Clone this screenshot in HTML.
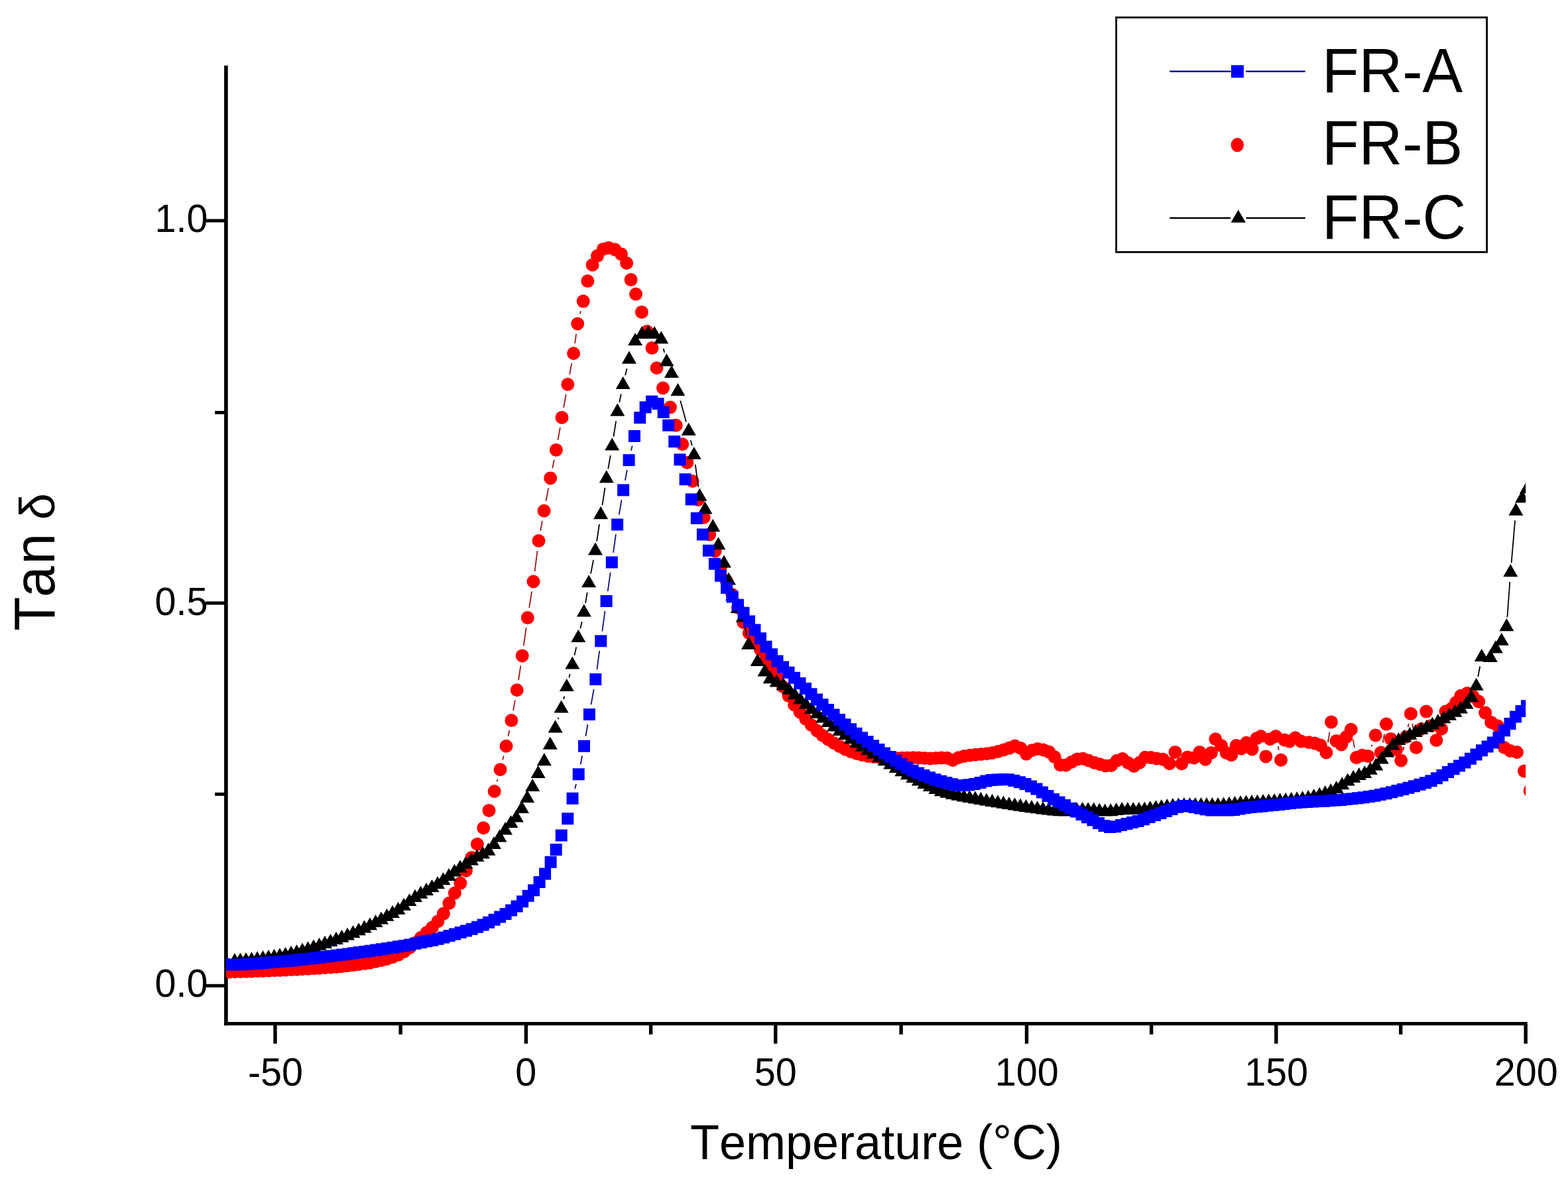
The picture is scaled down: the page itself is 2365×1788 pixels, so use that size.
<!DOCTYPE html>
<html lang="en"><head><meta charset="utf-8"><title>Tan delta vs Temperature</title>
<style>html,body{margin:0;padding:0;background:#fff}body{width:2365px;height:1788px;overflow:hidden}svg{display:block}text{font-family:"Liberation Sans",Arial,Helvetica,sans-serif;fill:#000;font-kerning:none;font-variant-ligatures:none}</style></head><body>
<svg width="2365" height="1788" viewBox="0 0 2365 1788">
<rect width="2365" height="1788" fill="#fff"/>
<defs><clipPath id="plot"><rect x="340.9" y="98.9" width="1960.2999999999997" height="1445.6999999999998"/></clipPath></defs>
<g fill="#000"><rect x="338.1" y="98.9" width="5.6" height="1448.3"/><rect x="338.1" y="1542" width="1965.6" height="5.2"/><rect x="412.3" y="1545" width="5.4" height="29.7"/><rect x="790.7" y="1545" width="5.4" height="29.7"/><rect x="1167.0" y="1545" width="5.4" height="29.7"/><rect x="1545.8" y="1545" width="5.4" height="29.7"/><rect x="1922.1" y="1545" width="5.4" height="29.7"/><rect x="2298.5" y="1545" width="5.4" height="29.7"/><rect x="601.5" y="1545" width="5.4" height="15.8"/><rect x="978.9" y="1545" width="5.4" height="15.8"/><rect x="1356.4" y="1545" width="5.4" height="15.8"/><rect x="1733.9" y="1545" width="5.4" height="15.8"/><rect x="2110.0" y="1545" width="5.4" height="15.8"/><rect x="310.2" y="330.5" width="29" height="5"/><rect x="310.2" y="907.5" width="29" height="5"/><rect x="310.2" y="1484.8" width="29" height="5"/><rect x="324.1" y="620.0" width="15" height="5"/><rect x="324.1" y="1195.8" width="15" height="5"/></g>
<text transform="translate(415.5 1637.6) scale(1 1.03)" font-size="57.5px" text-anchor="middle">-50</text>
<text transform="translate(793.3 1637.6) scale(1 1.03)" font-size="57.5px" text-anchor="middle">0</text>
<text transform="translate(1169.8 1637.6) scale(1 1.03)" font-size="57.5px" text-anchor="middle">50</text>
<text transform="translate(1548.7 1637.6) scale(1 1.03)" font-size="57.5px" text-anchor="middle">100</text>
<text transform="translate(1925.1 1637.6) scale(1 1.03)" font-size="57.5px" text-anchor="middle">150</text>
<text transform="translate(2301.7 1637.6) scale(1 1.03)" font-size="57.5px" text-anchor="middle">200</text>
<text transform="translate(313.5 349.6) scale(1 1.03)" font-size="57.5px" text-anchor="end">1.0</text>
<text transform="translate(313.5 927.6) scale(1 1.03)" font-size="57.5px" text-anchor="end">0.5</text>
<text transform="translate(313.5 1503.9) scale(1 1.03)" font-size="57.5px" text-anchor="end">0.0</text>
<text transform="translate(1321.5 1749.2) scale(1 1.02)" font-size="72px" text-anchor="middle">Temperature (°C)</text>
<text transform="translate(81.8 952) rotate(-90) scale(1 1.03)" font-size="84px" text-anchor="start"><tspan dx="0 -0.4 2.8 -1.4 -1.4">Tan <tspan font-size="72px">δ</tspan></tspan></text>
<g clip-path="url(#plot)">
<path d="M749.6 1179.3L750.6 1175.9M758.2 1146.5L759.8 1140.5M766.5 1110.9L768.4 1102.0M774.1 1072.1L777.0 1056.3M782.0 1026.3L785.4 1004.4M789.8 974.3L793.7 947.2M798.2 917.1L802.1 892.5M806.5 862.4L810.5 831.1M815.2 801.0L817.9 785.8M823.5 755.9L827.3 736.3M833.2 706.5L835.9 693.8M841.5 663.9L844.9 645.0M850.1 615.0L853.7 595.0M859.1 565.1L862.3 548.2M867.2 518.2L869.1 503.6M874.9 473.8L876.0 469.3M1927.6 1125.9L1928.8 1131.9M2002.9 1120.5L2005.5 1104.4M2040.7 1115.7L2043.0 1128.2M2068.5 1126.6L2069.5 1123.7M2085.7 1120.6L2088.1 1107.5M2116.3 1132.5L2117.4 1126.9M2123.6 1097.1L2124.8 1091.8M2130.3 1091.9L2133.6 1112.9M2263.4 1109.8L2264.6 1113.5" stroke="#a01818" stroke-width="1.8" fill="none"/>
<path d="M335.9 1466.5a10.0 10.0 0 1 0 20.0 0a10.0 10.0 0 1 0 -20.0 0zM344.4 1466.3a10.0 10.0 0 1 0 20.0 0a10.0 10.0 0 1 0 -20.0 0zM352.9 1466.1a10.0 10.0 0 1 0 20.0 0a10.0 10.0 0 1 0 -20.0 0zM361.4 1465.8a10.0 10.0 0 1 0 20.0 0a10.0 10.0 0 1 0 -20.0 0zM369.9 1465.5a10.0 10.0 0 1 0 20.0 0a10.0 10.0 0 1 0 -20.0 0zM378.4 1465.3a10.0 10.0 0 1 0 20.0 0a10.0 10.0 0 1 0 -20.0 0zM386.9 1464.9a10.0 10.0 0 1 0 20.0 0a10.0 10.0 0 1 0 -20.0 0zM395.4 1464.6a10.0 10.0 0 1 0 20.0 0a10.0 10.0 0 1 0 -20.0 0zM403.9 1464.3a10.0 10.0 0 1 0 20.0 0a10.0 10.0 0 1 0 -20.0 0zM412.4 1463.9a10.0 10.0 0 1 0 20.0 0a10.0 10.0 0 1 0 -20.0 0zM420.9 1463.5a10.0 10.0 0 1 0 20.0 0a10.0 10.0 0 1 0 -20.0 0zM429.4 1463.1a10.0 10.0 0 1 0 20.0 0a10.0 10.0 0 1 0 -20.0 0zM437.9 1462.7a10.0 10.0 0 1 0 20.0 0a10.0 10.0 0 1 0 -20.0 0zM446.4 1462.2a10.0 10.0 0 1 0 20.0 0a10.0 10.0 0 1 0 -20.0 0zM454.9 1461.7a10.0 10.0 0 1 0 20.0 0a10.0 10.0 0 1 0 -20.0 0zM463.4 1461.2a10.0 10.0 0 1 0 20.0 0a10.0 10.0 0 1 0 -20.0 0zM471.9 1460.7a10.0 10.0 0 1 0 20.0 0a10.0 10.0 0 1 0 -20.0 0zM480.4 1460.0a10.0 10.0 0 1 0 20.0 0a10.0 10.0 0 1 0 -20.0 0zM488.9 1459.4a10.0 10.0 0 1 0 20.0 0a10.0 10.0 0 1 0 -20.0 0zM497.4 1458.7a10.0 10.0 0 1 0 20.0 0a10.0 10.0 0 1 0 -20.0 0zM505.9 1458.0a10.0 10.0 0 1 0 20.0 0a10.0 10.0 0 1 0 -20.0 0zM514.4 1457.1a10.0 10.0 0 1 0 20.0 0a10.0 10.0 0 1 0 -20.0 0zM522.9 1456.1a10.0 10.0 0 1 0 20.0 0a10.0 10.0 0 1 0 -20.0 0zM531.4 1455.0a10.0 10.0 0 1 0 20.0 0a10.0 10.0 0 1 0 -20.0 0zM539.9 1453.8a10.0 10.0 0 1 0 20.0 0a10.0 10.0 0 1 0 -20.0 0zM548.4 1452.4a10.0 10.0 0 1 0 20.0 0a10.0 10.0 0 1 0 -20.0 0zM556.9 1450.8a10.0 10.0 0 1 0 20.0 0a10.0 10.0 0 1 0 -20.0 0zM565.4 1449.0a10.0 10.0 0 1 0 20.0 0a10.0 10.0 0 1 0 -20.0 0zM573.9 1446.7a10.0 10.0 0 1 0 20.0 0a10.0 10.0 0 1 0 -20.0 0zM582.4 1443.9a10.0 10.0 0 1 0 20.0 0a10.0 10.0 0 1 0 -20.0 0zM590.9 1440.6a10.0 10.0 0 1 0 20.0 0a10.0 10.0 0 1 0 -20.0 0zM599.4 1435.9a10.0 10.0 0 1 0 20.0 0a10.0 10.0 0 1 0 -20.0 0zM607.9 1429.9a10.0 10.0 0 1 0 20.0 0a10.0 10.0 0 1 0 -20.0 0zM616.4 1422.7a10.0 10.0 0 1 0 20.0 0a10.0 10.0 0 1 0 -20.0 0zM624.9 1414.7a10.0 10.0 0 1 0 20.0 0a10.0 10.0 0 1 0 -20.0 0zM633.4 1407.3a10.0 10.0 0 1 0 20.0 0a10.0 10.0 0 1 0 -20.0 0zM641.9 1399.5a10.0 10.0 0 1 0 20.0 0a10.0 10.0 0 1 0 -20.0 0zM650.4 1390.2a10.0 10.0 0 1 0 20.0 0a10.0 10.0 0 1 0 -20.0 0zM658.9 1378.6a10.0 10.0 0 1 0 20.0 0a10.0 10.0 0 1 0 -20.0 0zM667.4 1362.7a10.0 10.0 0 1 0 20.0 0a10.0 10.0 0 1 0 -20.0 0zM675.9 1347.5a10.0 10.0 0 1 0 20.0 0a10.0 10.0 0 1 0 -20.0 0zM684.4 1332.6a10.0 10.0 0 1 0 20.0 0a10.0 10.0 0 1 0 -20.0 0zM692.9 1313.7a10.0 10.0 0 1 0 20.0 0a10.0 10.0 0 1 0 -20.0 0zM701.4 1293.9a10.0 10.0 0 1 0 20.0 0a10.0 10.0 0 1 0 -20.0 0zM709.9 1273.8a10.0 10.0 0 1 0 20.0 0a10.0 10.0 0 1 0 -20.0 0zM719.2 1249.2a10.0 10.0 0 1 0 20.0 0a10.0 10.0 0 1 0 -20.0 0zM727.5 1222.9a10.0 10.0 0 1 0 20.0 0a10.0 10.0 0 1 0 -20.0 0zM735.7 1194.0a10.0 10.0 0 1 0 20.0 0a10.0 10.0 0 1 0 -20.0 0zM744.5 1161.2a10.0 10.0 0 1 0 20.0 0a10.0 10.0 0 1 0 -20.0 0zM753.5 1125.8a10.0 10.0 0 1 0 20.0 0a10.0 10.0 0 1 0 -20.0 0zM761.4 1087.1a10.0 10.0 0 1 0 20.0 0a10.0 10.0 0 1 0 -20.0 0zM769.7 1041.3a10.0 10.0 0 1 0 20.0 0a10.0 10.0 0 1 0 -20.0 0zM777.7 989.4a10.0 10.0 0 1 0 20.0 0a10.0 10.0 0 1 0 -20.0 0zM785.8 932.1a10.0 10.0 0 1 0 20.0 0a10.0 10.0 0 1 0 -20.0 0zM794.5 877.5a10.0 10.0 0 1 0 20.0 0a10.0 10.0 0 1 0 -20.0 0zM802.5 816.0a10.0 10.0 0 1 0 20.0 0a10.0 10.0 0 1 0 -20.0 0zM810.6 770.8a10.0 10.0 0 1 0 20.0 0a10.0 10.0 0 1 0 -20.0 0zM820.2 721.4a10.0 10.0 0 1 0 20.0 0a10.0 10.0 0 1 0 -20.0 0zM828.9 678.9a10.0 10.0 0 1 0 20.0 0a10.0 10.0 0 1 0 -20.0 0zM837.5 630.0a10.0 10.0 0 1 0 20.0 0a10.0 10.0 0 1 0 -20.0 0zM846.3 580.0a10.0 10.0 0 1 0 20.0 0a10.0 10.0 0 1 0 -20.0 0zM855.1 533.3a10.0 10.0 0 1 0 20.0 0a10.0 10.0 0 1 0 -20.0 0zM861.2 488.5a10.0 10.0 0 1 0 20.0 0a10.0 10.0 0 1 0 -20.0 0zM869.7 454.6a10.0 10.0 0 1 0 20.0 0a10.0 10.0 0 1 0 -20.0 0zM876.3 424.1a10.0 10.0 0 1 0 20.0 0a10.0 10.0 0 1 0 -20.0 0zM883.6 399.7a10.0 10.0 0 1 0 20.0 0a10.0 10.0 0 1 0 -20.0 0zM891.0 386.1a10.0 10.0 0 1 0 20.0 0a10.0 10.0 0 1 0 -20.0 0zM899.9 375.9a10.0 10.0 0 1 0 20.0 0a10.0 10.0 0 1 0 -20.0 0zM908.0 373.9a10.0 10.0 0 1 0 20.0 0a10.0 10.0 0 1 0 -20.0 0zM917.5 376.6a10.0 10.0 0 1 0 20.0 0a10.0 10.0 0 1 0 -20.0 0zM927.0 383.4a10.0 10.0 0 1 0 20.0 0a10.0 10.0 0 1 0 -20.0 0zM935.1 397.0a10.0 10.0 0 1 0 20.0 0a10.0 10.0 0 1 0 -20.0 0zM941.6 422.1a10.0 10.0 0 1 0 20.0 0a10.0 10.0 0 1 0 -20.0 0zM949.0 443.8a10.0 10.0 0 1 0 20.0 0a10.0 10.0 0 1 0 -20.0 0zM957.9 470.9a10.0 10.0 0 1 0 20.0 0a10.0 10.0 0 1 0 -20.0 0zM966.0 500.0a10.0 10.0 0 1 0 20.0 0a10.0 10.0 0 1 0 -20.0 0zM973.5 525.1a10.0 10.0 0 1 0 20.0 0a10.0 10.0 0 1 0 -20.0 0zM980.5 555.3a10.0 10.0 0 1 0 20.0 0a10.0 10.0 0 1 0 -20.0 0zM990.0 585.5a10.0 10.0 0 1 0 20.0 0a10.0 10.0 0 1 0 -20.0 0zM1000.9 614.6a10.0 10.0 0 1 0 20.0 0a10.0 10.0 0 1 0 -20.0 0zM1009.7 641.7a10.0 10.0 0 1 0 20.0 0a10.0 10.0 0 1 0 -20.0 0zM1019.2 670.2a10.0 10.0 0 1 0 20.0 0a10.0 10.0 0 1 0 -20.0 0zM1026.3 697.9a10.0 10.0 0 1 0 20.0 0a10.0 10.0 0 1 0 -20.0 0zM1034.5 726.0a10.0 10.0 0 1 0 20.0 0a10.0 10.0 0 1 0 -20.0 0zM1043.0 754.1a10.0 10.0 0 1 0 20.0 0a10.0 10.0 0 1 0 -20.0 0zM1051.6 780.7a10.0 10.0 0 1 0 20.0 0a10.0 10.0 0 1 0 -20.0 0zM1060.1 806.6a10.0 10.0 0 1 0 20.0 0a10.0 10.0 0 1 0 -20.0 0zM1068.6 831.5a10.0 10.0 0 1 0 20.0 0a10.0 10.0 0 1 0 -20.0 0zM1077.2 853.9a10.0 10.0 0 1 0 20.0 0a10.0 10.0 0 1 0 -20.0 0zM1085.7 876.6a10.0 10.0 0 1 0 20.0 0a10.0 10.0 0 1 0 -20.0 0zM1094.2 897.0a10.0 10.0 0 1 0 20.0 0a10.0 10.0 0 1 0 -20.0 0zM1102.8 916.8a10.0 10.0 0 1 0 20.0 0a10.0 10.0 0 1 0 -20.0 0zM1111.3 939.3a10.0 10.0 0 1 0 20.0 0a10.0 10.0 0 1 0 -20.0 0zM1119.8 955.1a10.0 10.0 0 1 0 20.0 0a10.0 10.0 0 1 0 -20.0 0zM1128.4 968.1a10.0 10.0 0 1 0 20.0 0a10.0 10.0 0 1 0 -20.0 0zM1136.9 980.3a10.0 10.0 0 1 0 20.0 0a10.0 10.0 0 1 0 -20.0 0zM1145.4 993.7a10.0 10.0 0 1 0 20.0 0a10.0 10.0 0 1 0 -20.0 0zM1154.0 1008.0a10.0 10.0 0 1 0 20.0 0a10.0 10.0 0 1 0 -20.0 0zM1162.5 1022.1a10.0 10.0 0 1 0 20.0 0a10.0 10.0 0 1 0 -20.0 0zM1171.0 1036.2a10.0 10.0 0 1 0 20.0 0a10.0 10.0 0 1 0 -20.0 0zM1179.6 1050.1a10.0 10.0 0 1 0 20.0 0a10.0 10.0 0 1 0 -20.0 0zM1188.1 1063.4a10.0 10.0 0 1 0 20.0 0a10.0 10.0 0 1 0 -20.0 0zM1196.6 1074.4a10.0 10.0 0 1 0 20.0 0a10.0 10.0 0 1 0 -20.0 0zM1205.2 1084.6a10.0 10.0 0 1 0 20.0 0a10.0 10.0 0 1 0 -20.0 0zM1213.7 1094.0a10.0 10.0 0 1 0 20.0 0a10.0 10.0 0 1 0 -20.0 0zM1222.3 1102.5a10.0 10.0 0 1 0 20.0 0a10.0 10.0 0 1 0 -20.0 0zM1230.8 1109.8a10.0 10.0 0 1 0 20.0 0a10.0 10.0 0 1 0 -20.0 0zM1239.3 1115.8a10.0 10.0 0 1 0 20.0 0a10.0 10.0 0 1 0 -20.0 0zM1247.9 1121.3a10.0 10.0 0 1 0 20.0 0a10.0 10.0 0 1 0 -20.0 0zM1256.4 1126.2a10.0 10.0 0 1 0 20.0 0a10.0 10.0 0 1 0 -20.0 0zM1264.9 1130.5a10.0 10.0 0 1 0 20.0 0a10.0 10.0 0 1 0 -20.0 0zM1273.5 1134.2a10.0 10.0 0 1 0 20.0 0a10.0 10.0 0 1 0 -20.0 0zM1282.0 1137.0a10.0 10.0 0 1 0 20.0 0a10.0 10.0 0 1 0 -20.0 0zM1290.5 1139.3a10.0 10.0 0 1 0 20.0 0a10.0 10.0 0 1 0 -20.0 0zM1299.1 1141.0a10.0 10.0 0 1 0 20.0 0a10.0 10.0 0 1 0 -20.0 0zM1307.6 1142.0a10.0 10.0 0 1 0 20.0 0a10.0 10.0 0 1 0 -20.0 0zM1316.1 1142.8a10.0 10.0 0 1 0 20.0 0a10.0 10.0 0 1 0 -20.0 0zM1324.7 1143.5a10.0 10.0 0 1 0 20.0 0a10.0 10.0 0 1 0 -20.0 0zM1333.2 1143.9a10.0 10.0 0 1 0 20.0 0a10.0 10.0 0 1 0 -20.0 0zM1341.7 1144.0a10.0 10.0 0 1 0 20.0 0a10.0 10.0 0 1 0 -20.0 0zM1350.3 1143.8a10.0 10.0 0 1 0 20.0 0a10.0 10.0 0 1 0 -20.0 0zM1358.8 1143.5a10.0 10.0 0 1 0 20.0 0a10.0 10.0 0 1 0 -20.0 0zM1367.3 1143.3a10.0 10.0 0 1 0 20.0 0a10.0 10.0 0 1 0 -20.0 0zM1375.9 1143.4a10.0 10.0 0 1 0 20.0 0a10.0 10.0 0 1 0 -20.0 0zM1384.4 1144.0a10.0 10.0 0 1 0 20.0 0a10.0 10.0 0 1 0 -20.0 0zM1392.9 1144.4a10.0 10.0 0 1 0 20.0 0a10.0 10.0 0 1 0 -20.0 0zM1401.5 1144.1a10.0 10.0 0 1 0 20.0 0a10.0 10.0 0 1 0 -20.0 0zM1410.0 1143.5a10.0 10.0 0 1 0 20.0 0a10.0 10.0 0 1 0 -20.0 0zM1418.5 1143.8a10.0 10.0 0 1 0 20.0 0a10.0 10.0 0 1 0 -20.0 0zM1427.1 1147.0a10.0 10.0 0 1 0 20.0 0a10.0 10.0 0 1 0 -20.0 0zM1435.6 1143.3a10.0 10.0 0 1 0 20.0 0a10.0 10.0 0 1 0 -20.0 0zM1444.1 1141.0a10.0 10.0 0 1 0 20.0 0a10.0 10.0 0 1 0 -20.0 0zM1452.7 1139.7a10.0 10.0 0 1 0 20.0 0a10.0 10.0 0 1 0 -20.0 0zM1461.2 1138.7a10.0 10.0 0 1 0 20.0 0a10.0 10.0 0 1 0 -20.0 0zM1469.7 1137.9a10.0 10.0 0 1 0 20.0 0a10.0 10.0 0 1 0 -20.0 0zM1478.3 1137.2a10.0 10.0 0 1 0 20.0 0a10.0 10.0 0 1 0 -20.0 0zM1486.8 1136.0a10.0 10.0 0 1 0 20.0 0a10.0 10.0 0 1 0 -20.0 0zM1495.3 1134.0a10.0 10.0 0 1 0 20.0 0a10.0 10.0 0 1 0 -20.0 0zM1503.9 1131.5a10.0 10.0 0 1 0 20.0 0a10.0 10.0 0 1 0 -20.0 0zM1512.4 1128.6a10.0 10.0 0 1 0 20.0 0a10.0 10.0 0 1 0 -20.0 0zM1520.9 1125.6a10.0 10.0 0 1 0 20.0 0a10.0 10.0 0 1 0 -20.0 0zM1529.5 1129.0a10.0 10.0 0 1 0 20.0 0a10.0 10.0 0 1 0 -20.0 0zM1538.0 1137.6a10.0 10.0 0 1 0 20.0 0a10.0 10.0 0 1 0 -20.0 0zM1546.5 1132.2a10.0 10.0 0 1 0 20.0 0a10.0 10.0 0 1 0 -20.0 0zM1555.1 1129.9a10.0 10.0 0 1 0 20.0 0a10.0 10.0 0 1 0 -20.0 0zM1563.6 1131.5a10.0 10.0 0 1 0 20.0 0a10.0 10.0 0 1 0 -20.0 0zM1572.2 1134.5a10.0 10.0 0 1 0 20.0 0a10.0 10.0 0 1 0 -20.0 0zM1580.7 1142.3a10.0 10.0 0 1 0 20.0 0a10.0 10.0 0 1 0 -20.0 0zM1589.2 1154.2a10.0 10.0 0 1 0 20.0 0a10.0 10.0 0 1 0 -20.0 0zM1597.8 1154.4a10.0 10.0 0 1 0 20.0 0a10.0 10.0 0 1 0 -20.0 0zM1606.3 1149.8a10.0 10.0 0 1 0 20.0 0a10.0 10.0 0 1 0 -20.0 0zM1614.8 1145.6a10.0 10.0 0 1 0 20.0 0a10.0 10.0 0 1 0 -20.0 0zM1623.4 1144.8a10.0 10.0 0 1 0 20.0 0a10.0 10.0 0 1 0 -20.0 0zM1631.9 1147.5a10.0 10.0 0 1 0 20.0 0a10.0 10.0 0 1 0 -20.0 0zM1640.4 1150.7a10.0 10.0 0 1 0 20.0 0a10.0 10.0 0 1 0 -20.0 0zM1649.0 1153.3a10.0 10.0 0 1 0 20.0 0a10.0 10.0 0 1 0 -20.0 0zM1657.5 1155.5a10.0 10.0 0 1 0 20.0 0a10.0 10.0 0 1 0 -20.0 0zM1666.0 1154.9a10.0 10.0 0 1 0 20.0 0a10.0 10.0 0 1 0 -20.0 0zM1674.6 1147.7a10.0 10.0 0 1 0 20.0 0a10.0 10.0 0 1 0 -20.0 0zM1683.1 1145.1a10.0 10.0 0 1 0 20.0 0a10.0 10.0 0 1 0 -20.0 0zM1691.6 1151.0a10.0 10.0 0 1 0 20.0 0a10.0 10.0 0 1 0 -20.0 0zM1700.2 1155.9a10.0 10.0 0 1 0 20.0 0a10.0 10.0 0 1 0 -20.0 0zM1708.7 1150.7a10.0 10.0 0 1 0 20.0 0a10.0 10.0 0 1 0 -20.0 0zM1717.2 1142.8a10.0 10.0 0 1 0 20.0 0a10.0 10.0 0 1 0 -20.0 0zM1725.8 1143.1a10.0 10.0 0 1 0 20.0 0a10.0 10.0 0 1 0 -20.0 0zM1734.3 1144.6a10.0 10.0 0 1 0 20.0 0a10.0 10.0 0 1 0 -20.0 0zM1744.1 1145.7a10.0 10.0 0 1 0 20.0 0a10.0 10.0 0 1 0 -20.0 0zM1753.9 1152.2a10.0 10.0 0 1 0 20.0 0a10.0 10.0 0 1 0 -20.0 0zM1762.5 1134.9a10.0 10.0 0 1 0 20.0 0a10.0 10.0 0 1 0 -20.0 0zM1772.3 1152.2a10.0 10.0 0 1 0 20.0 0a10.0 10.0 0 1 0 -20.0 0zM1781.0 1142.5a10.0 10.0 0 1 0 20.0 0a10.0 10.0 0 1 0 -20.0 0zM1790.8 1143.5a10.0 10.0 0 1 0 20.0 0a10.0 10.0 0 1 0 -20.0 0zM1799.4 1134.9a10.0 10.0 0 1 0 20.0 0a10.0 10.0 0 1 0 -20.0 0zM1808.1 1145.7a10.0 10.0 0 1 0 20.0 0a10.0 10.0 0 1 0 -20.0 0zM1816.8 1135.9a10.0 10.0 0 1 0 20.0 0a10.0 10.0 0 1 0 -20.0 0zM1823.3 1115.3a10.0 10.0 0 1 0 20.0 0a10.0 10.0 0 1 0 -20.0 0zM1832.0 1125.1a10.0 10.0 0 1 0 20.0 0a10.0 10.0 0 1 0 -20.0 0zM1839.6 1135.9a10.0 10.0 0 1 0 20.0 0a10.0 10.0 0 1 0 -20.0 0zM1847.2 1139.2a10.0 10.0 0 1 0 20.0 0a10.0 10.0 0 1 0 -20.0 0zM1854.6 1125.1a10.0 10.0 0 1 0 20.0 0a10.0 10.0 0 1 0 -20.0 0zM1862.3 1129.4a10.0 10.0 0 1 0 20.0 0a10.0 10.0 0 1 0 -20.0 0zM1870.0 1120.8a10.0 10.0 0 1 0 20.0 0a10.0 10.0 0 1 0 -20.0 0zM1878.6 1130.5a10.0 10.0 0 1 0 20.0 0a10.0 10.0 0 1 0 -20.0 0zM1885.3 1114.2a10.0 10.0 0 1 0 20.0 0a10.0 10.0 0 1 0 -20.0 0zM1891.7 1111.0a10.0 10.0 0 1 0 20.0 0a10.0 10.0 0 1 0 -20.0 0zM1899.3 1141.4a10.0 10.0 0 1 0 20.0 0a10.0 10.0 0 1 0 -20.0 0zM1905.7 1115.3a10.0 10.0 0 1 0 20.0 0a10.0 10.0 0 1 0 -20.0 0zM1914.4 1111.0a10.0 10.0 0 1 0 20.0 0a10.0 10.0 0 1 0 -20.0 0zM1922.0 1146.8a10.0 10.0 0 1 0 20.0 0a10.0 10.0 0 1 0 -20.0 0zM1927.3 1116.4a10.0 10.0 0 1 0 20.0 0a10.0 10.0 0 1 0 -20.0 0zM1935.0 1118.6a10.0 10.0 0 1 0 20.0 0a10.0 10.0 0 1 0 -20.0 0zM1943.7 1113.2a10.0 10.0 0 1 0 20.0 0a10.0 10.0 0 1 0 -20.0 0zM1952.4 1118.6a10.0 10.0 0 1 0 20.0 0a10.0 10.0 0 1 0 -20.0 0zM1964.3 1120.3a10.0 10.0 0 1 0 20.0 0a10.0 10.0 0 1 0 -20.0 0zM1973.0 1121.4a10.0 10.0 0 1 0 20.0 0a10.0 10.0 0 1 0 -20.0 0zM1981.7 1124.6a10.0 10.0 0 1 0 20.0 0a10.0 10.0 0 1 0 -20.0 0zM1990.4 1135.5a10.0 10.0 0 1 0 20.0 0a10.0 10.0 0 1 0 -20.0 0zM1998.0 1089.4a10.0 10.0 0 1 0 20.0 0a10.0 10.0 0 1 0 -20.0 0zM2005.6 1118.1a10.0 10.0 0 1 0 20.0 0a10.0 10.0 0 1 0 -20.0 0zM2013.2 1123.5a10.0 10.0 0 1 0 20.0 0a10.0 10.0 0 1 0 -20.0 0zM2020.5 1112.0a10.0 10.0 0 1 0 20.0 0a10.0 10.0 0 1 0 -20.0 0zM2027.8 1100.8a10.0 10.0 0 1 0 20.0 0a10.0 10.0 0 1 0 -20.0 0zM2035.9 1143.1a10.0 10.0 0 1 0 20.0 0a10.0 10.0 0 1 0 -20.0 0zM2044.6 1139.8a10.0 10.0 0 1 0 20.0 0a10.0 10.0 0 1 0 -20.0 0zM2053.3 1140.9a10.0 10.0 0 1 0 20.0 0a10.0 10.0 0 1 0 -20.0 0zM2064.7 1109.4a10.0 10.0 0 1 0 20.0 0a10.0 10.0 0 1 0 -20.0 0zM2072.8 1135.5a10.0 10.0 0 1 0 20.0 0a10.0 10.0 0 1 0 -20.0 0zM2081.0 1092.6a10.0 10.0 0 1 0 20.0 0a10.0 10.0 0 1 0 -20.0 0zM2087.7 1114.9a10.0 10.0 0 1 0 20.0 0a10.0 10.0 0 1 0 -20.0 0zM2096.0 1131.0a10.0 10.0 0 1 0 20.0 0a10.0 10.0 0 1 0 -20.0 0zM2103.2 1147.4a10.0 10.0 0 1 0 20.0 0a10.0 10.0 0 1 0 -20.0 0zM2110.5 1112.0a10.0 10.0 0 1 0 20.0 0a10.0 10.0 0 1 0 -20.0 0zM2117.9 1076.9a10.0 10.0 0 1 0 20.0 0a10.0 10.0 0 1 0 -20.0 0zM2126.0 1127.9a10.0 10.0 0 1 0 20.0 0a10.0 10.0 0 1 0 -20.0 0zM2133.5 1100.0a10.0 10.0 0 1 0 20.0 0a10.0 10.0 0 1 0 -20.0 0zM2141.2 1073.6a10.0 10.0 0 1 0 20.0 0a10.0 10.0 0 1 0 -20.0 0zM2148.8 1095.0a10.0 10.0 0 1 0 20.0 0a10.0 10.0 0 1 0 -20.0 0zM2156.4 1117.0a10.0 10.0 0 1 0 20.0 0a10.0 10.0 0 1 0 -20.0 0zM2164.1 1099.7a10.0 10.0 0 1 0 20.0 0a10.0 10.0 0 1 0 -20.0 0zM2170.5 1073.6a10.0 10.0 0 1 0 20.0 0a10.0 10.0 0 1 0 -20.0 0zM2179.2 1069.3a10.0 10.0 0 1 0 20.0 0a10.0 10.0 0 1 0 -20.0 0zM2186.0 1060.0a10.0 10.0 0 1 0 20.0 0a10.0 10.0 0 1 0 -20.0 0zM2193.3 1049.8a10.0 10.0 0 1 0 20.0 0a10.0 10.0 0 1 0 -20.0 0zM2203.0 1046.0a10.0 10.0 0 1 0 20.0 0a10.0 10.0 0 1 0 -20.0 0zM2212.0 1051.0a10.0 10.0 0 1 0 20.0 0a10.0 10.0 0 1 0 -20.0 0zM2220.3 1058.6a10.0 10.0 0 1 0 20.0 0a10.0 10.0 0 1 0 -20.0 0zM2230.2 1075.6a10.0 10.0 0 1 0 20.0 0a10.0 10.0 0 1 0 -20.0 0zM2239.2 1090.0a10.0 10.0 0 1 0 20.0 0a10.0 10.0 0 1 0 -20.0 0zM2249.0 1095.3a10.0 10.0 0 1 0 20.0 0a10.0 10.0 0 1 0 -20.0 0zM2259.0 1128.0a10.0 10.0 0 1 0 20.0 0a10.0 10.0 0 1 0 -20.0 0zM2268.0 1133.0a10.0 10.0 0 1 0 20.0 0a10.0 10.0 0 1 0 -20.0 0zM2278.0 1135.0a10.0 10.0 0 1 0 20.0 0a10.0 10.0 0 1 0 -20.0 0zM2289.0 1163.5a10.0 10.0 0 1 0 20.0 0a10.0 10.0 0 1 0 -20.0 0zM2297.5 1193.1a10.0 10.0 0 1 0 20.0 0a10.0 10.0 0 1 0 -20.0 0z" fill="#ff0000"/>
<path d="M841.8 1085.0L842.4 1082.8M850.1 1055.0L851.3 1050.4M858.4 1022.4L859.7 1017.0M866.4 988.9L869.2 976.4M875.4 948.2L877.7 938.1M883.1 909.8L885.8 893.9M891.0 865.6L895.1 844.9M900.1 816.6L904.0 790.8M908.4 762.4L912.5 736.0M917.2 707.6L920.8 687.2M925.4 658.8L929.1 635.3M934.2 607.0L936.8 594.5M943.1 566.4L945.5 556.1M1000.7 525.9L1002.1 531.9M1026.2 604.5L1034.9 636.4M1041.8 664.4L1043.7 672.4M1048.7 700.8L1053.4 734.8M1123.6 945.9L1126.2 959.0M2229.3 1021.0L2232.2 1005.5M2273.4 931.2L2277.3 878.0M2279.6 849.3L2285.1 785.4" stroke="#000" stroke-width="1.8" fill="none"/>
<path d="M354.0 1438.1l11.0 19.1h-22.0zM362.5 1437.6l11.0 19.1h-22.0zM371.0 1437.0l11.0 19.1h-22.0zM379.5 1436.2l11.0 19.1h-22.0zM388.0 1435.2l11.0 19.1h-22.0zM396.5 1434.1l11.0 19.1h-22.0zM405.0 1433.0l11.0 19.1h-22.0zM413.5 1431.7l11.0 19.1h-22.0zM422.0 1430.3l11.0 19.1h-22.0zM430.5 1428.8l11.0 19.1h-22.0zM439.0 1427.0l11.0 19.1h-22.0zM447.5 1424.9l11.0 19.1h-22.0zM456.0 1422.6l11.0 19.1h-22.0zM464.5 1420.2l11.0 19.1h-22.0zM473.0 1417.5l11.0 19.1h-22.0zM481.5 1414.7l11.0 19.1h-22.0zM490.0 1411.8l11.0 19.1h-22.0zM498.5 1408.8l11.0 19.1h-22.0zM507.0 1405.8l11.0 19.1h-22.0zM515.5 1402.7l11.0 19.1h-22.0zM524.0 1399.4l11.0 19.1h-22.0zM532.5 1395.9l11.0 19.1h-22.0zM541.0 1392.2l11.0 19.1h-22.0zM549.5 1388.3l11.0 19.1h-22.0zM558.0 1384.2l11.0 19.1h-22.0zM566.5 1379.9l11.0 19.1h-22.0zM575.0 1375.4l11.0 19.1h-22.0zM583.5 1370.7l11.0 19.1h-22.0zM592.0 1365.8l11.0 19.1h-22.0zM600.5 1360.7l11.0 19.1h-22.0zM609.0 1354.7l11.0 19.1h-22.0zM617.5 1348.0l11.0 19.1h-22.0zM626.0 1341.8l11.0 19.1h-22.0zM634.5 1336.6l11.0 19.1h-22.0zM643.0 1331.8l11.0 19.1h-22.0zM651.5 1327.0l11.0 19.1h-22.0zM660.0 1321.9l11.0 19.1h-22.0zM668.5 1316.1l11.0 19.1h-22.0zM677.0 1309.9l11.0 19.1h-22.0zM685.5 1303.5l11.0 19.1h-22.0zM694.0 1297.4l11.0 19.1h-22.0zM702.5 1291.7l11.0 19.1h-22.0zM711.0 1286.3l11.0 19.1h-22.0zM719.5 1281.0l11.0 19.1h-22.0zM728.0 1276.4l11.0 19.1h-22.0zM736.5 1271.6l11.0 19.1h-22.0zM745.0 1261.9l11.0 19.1h-22.0zM753.5 1251.5l11.0 19.1h-22.0zM762.0 1240.3l11.0 19.1h-22.0zM770.5 1229.9l11.0 19.1h-22.0zM778.8 1221.5l11.0 19.1h-22.0zM787.0 1208.0l11.0 19.1h-22.0zM795.2 1192.0l11.0 19.1h-22.0zM803.2 1175.0l11.0 19.1h-22.0zM811.7 1154.8l11.0 19.1h-22.0zM820.8 1136.1l11.0 19.1h-22.0zM829.8 1111.6l11.0 19.1h-22.0zM837.6 1086.3l11.0 19.1h-22.0zM846.6 1056.5l11.0 19.1h-22.0zM854.8 1023.9l11.0 19.1h-22.0zM863.3 990.5l11.0 19.1h-22.0zM872.3 949.8l11.0 19.1h-22.0zM880.8 911.5l11.0 19.1h-22.0zM888.1 867.2l11.0 19.1h-22.0zM898.0 818.3l11.0 19.1h-22.0zM906.1 764.1l11.0 19.1h-22.0zM914.8 709.3l11.0 19.1h-22.0zM923.2 660.5l11.0 19.1h-22.0zM931.3 608.6l11.0 19.1h-22.0zM939.7 567.9l11.0 19.1h-22.0zM948.9 529.6l11.0 19.1h-22.0zM958.0 502.2l11.0 19.1h-22.0zM968.2 492.0l11.0 19.1h-22.0zM977.7 490.6l11.0 19.1h-22.0zM987.1 492.0l11.0 19.1h-22.0zM997.3 499.4l11.0 19.1h-22.0zM1005.5 533.4l11.0 19.1h-22.0zM1012.9 551.0l11.0 19.1h-22.0zM1022.4 578.1l11.0 19.1h-22.0zM1038.7 637.8l11.0 19.1h-22.0zM1046.8 674.0l11.0 19.1h-22.0zM1055.3 736.6l11.0 19.1h-22.0zM1063.5 756.5l11.0 19.1h-22.0zM1075.2 783.1l11.0 19.1h-22.0zM1083.4 810.2l11.0 19.1h-22.0zM1092.0 837.5l11.0 19.1h-22.0zM1099.0 863.5l11.0 19.1h-22.0zM1105.0 886.8l11.0 19.1h-22.0zM1112.6 905.8l11.0 19.1h-22.0zM1120.7 919.3l11.0 19.1h-22.0zM1129.1 960.6l11.0 19.1h-22.0zM1142.6 985.9l11.0 19.1h-22.0zM1153.5 1001.3l11.0 19.1h-22.0zM1161.6 1012.1l11.0 19.1h-22.0zM1171.5 1017.5l11.0 19.1h-22.0zM1181.5 1022.1l11.0 19.1h-22.0zM1190.0 1028.7l11.0 19.1h-22.0zM1198.5 1036.2l11.0 19.1h-22.0zM1207.0 1043.5l11.0 19.1h-22.0zM1215.5 1050.7l11.0 19.1h-22.0zM1224.1 1057.8l11.0 19.1h-22.0zM1232.6 1064.7l11.0 19.1h-22.0zM1241.1 1071.4l11.0 19.1h-22.0zM1249.6 1078.0l11.0 19.1h-22.0zM1258.1 1084.5l11.0 19.1h-22.0zM1266.6 1090.9l11.0 19.1h-22.0zM1275.1 1097.1l11.0 19.1h-22.0zM1283.6 1103.1l11.0 19.1h-22.0zM1292.2 1109.0l11.0 19.1h-22.0zM1300.7 1114.6l11.0 19.1h-22.0zM1309.2 1120.1l11.0 19.1h-22.0zM1317.7 1125.5l11.0 19.1h-22.0zM1326.2 1130.8l11.0 19.1h-22.0zM1334.7 1136.1l11.0 19.1h-22.0zM1343.2 1141.4l11.0 19.1h-22.0zM1351.7 1146.8l11.0 19.1h-22.0zM1360.3 1152.1l11.0 19.1h-22.0zM1368.8 1157.2l11.0 19.1h-22.0zM1377.3 1162.0l11.0 19.1h-22.0zM1385.8 1166.4l11.0 19.1h-22.0zM1394.3 1170.8l11.0 19.1h-22.0zM1402.8 1175.0l11.0 19.1h-22.0zM1411.3 1178.9l11.0 19.1h-22.0zM1419.8 1182.2l11.0 19.1h-22.0zM1428.4 1184.7l11.0 19.1h-22.0zM1436.9 1186.9l11.0 19.1h-22.0zM1445.4 1188.7l11.0 19.1h-22.0zM1453.9 1190.4l11.0 19.1h-22.0zM1462.4 1191.9l11.0 19.1h-22.0zM1470.9 1193.4l11.0 19.1h-22.0zM1479.4 1194.8l11.0 19.1h-22.0zM1487.9 1196.4l11.0 19.1h-22.0zM1496.5 1197.8l11.0 19.1h-22.0zM1505.0 1199.2l11.0 19.1h-22.0zM1513.5 1200.6l11.0 19.1h-22.0zM1522.0 1202.0l11.0 19.1h-22.0zM1530.5 1203.3l11.0 19.1h-22.0zM1539.0 1204.6l11.0 19.1h-22.0zM1547.5 1205.9l11.0 19.1h-22.0zM1556.0 1207.1l11.0 19.1h-22.0zM1564.6 1208.2l11.0 19.1h-22.0zM1573.1 1209.3l11.0 19.1h-22.0zM1581.6 1210.4l11.0 19.1h-22.0zM1590.1 1211.4l11.0 19.1h-22.0zM1598.6 1212.1l11.0 19.1h-22.0zM1607.1 1212.4l11.0 19.1h-22.0zM1615.6 1211.6l11.0 19.1h-22.0zM1624.1 1210.3l11.0 19.1h-22.0zM1632.7 1210.0l11.0 19.1h-22.0zM1641.2 1210.2l11.0 19.1h-22.0zM1649.7 1210.5l11.0 19.1h-22.0zM1658.2 1211.5l11.0 19.1h-22.0zM1666.7 1212.5l11.0 19.1h-22.0zM1675.2 1212.1l11.0 19.1h-22.0zM1683.7 1211.0l11.0 19.1h-22.0zM1692.2 1210.1l11.0 19.1h-22.0zM1700.8 1210.0l11.0 19.1h-22.0zM1709.3 1210.0l11.0 19.1h-22.0zM1717.8 1210.0l11.0 19.1h-22.0zM1726.3 1209.4l11.0 19.1h-22.0zM1734.8 1208.2l11.0 19.1h-22.0zM1743.3 1207.2l11.0 19.1h-22.0zM1751.8 1206.1l11.0 19.1h-22.0zM1760.3 1205.0l11.0 19.1h-22.0zM1768.9 1204.1l11.0 19.1h-22.0zM1777.4 1203.4l11.0 19.1h-22.0zM1785.9 1203.1l11.0 19.1h-22.0zM1794.4 1203.1l11.0 19.1h-22.0zM1802.9 1203.1l11.0 19.1h-22.0zM1811.4 1203.1l11.0 19.1h-22.0zM1819.9 1203.1l11.0 19.1h-22.0zM1828.4 1203.1l11.0 19.1h-22.0zM1837.0 1203.0l11.0 19.1h-22.0zM1845.5 1202.5l11.0 19.1h-22.0zM1854.0 1201.7l11.0 19.1h-22.0zM1862.5 1200.9l11.0 19.1h-22.0zM1871.0 1200.1l11.0 19.1h-22.0zM1879.5 1199.5l11.0 19.1h-22.0zM1888.0 1199.0l11.0 19.1h-22.0zM1896.5 1198.5l11.0 19.1h-22.0zM1905.1 1198.0l11.0 19.1h-22.0zM1913.6 1197.5l11.0 19.1h-22.0zM1922.1 1196.9l11.0 19.1h-22.0zM1930.6 1196.3l11.0 19.1h-22.0zM1939.1 1195.7l11.0 19.1h-22.0zM1947.6 1195.0l11.0 19.1h-22.0zM1956.1 1194.2l11.0 19.1h-22.0zM1964.6 1193.2l11.0 19.1h-22.0zM1973.2 1191.9l11.0 19.1h-22.0zM1981.7 1190.0l11.0 19.1h-22.0zM1990.2 1187.7l11.0 19.1h-22.0zM1998.7 1185.1l11.0 19.1h-22.0zM2007.2 1181.9l11.0 19.1h-22.0zM2015.7 1177.9l11.0 19.1h-22.0zM2024.2 1172.2l11.0 19.1h-22.0zM2032.7 1166.4l11.0 19.1h-22.0zM2041.3 1161.7l11.0 19.1h-22.0zM2049.8 1157.9l11.0 19.1h-22.0zM2058.3 1155.0l11.0 19.1h-22.0zM2066.8 1149.6l11.0 19.1h-22.0zM2075.3 1143.4l11.0 19.1h-22.0zM2083.8 1133.4l11.0 19.1h-22.0zM2092.3 1123.4l11.0 19.1h-22.0zM2100.8 1112.5l11.0 19.1h-22.0zM2109.4 1104.9l11.0 19.1h-22.0zM2117.9 1100.8l11.0 19.1h-22.0zM2126.4 1096.8l11.0 19.1h-22.0zM2134.9 1092.8l11.0 19.1h-22.0zM2143.4 1089.0l11.0 19.1h-22.0zM2151.9 1085.4l11.0 19.1h-22.0zM2160.4 1081.4l11.0 19.1h-22.0zM2168.9 1076.9l11.0 19.1h-22.0zM2177.5 1072.2l11.0 19.1h-22.0zM2186.0 1067.6l11.0 19.1h-22.0zM2194.5 1062.6l11.0 19.1h-22.0zM2203.0 1057.4l11.0 19.1h-22.0zM2211.5 1050.5l11.0 19.1h-22.0zM2219.1 1040.1l11.0 19.1h-22.0zM2226.7 1022.7l11.0 19.1h-22.0zM2234.8 978.8l11.0 19.1h-22.0zM2247.8 979.8l11.0 19.1h-22.0zM2255.9 966.3l11.0 19.1h-22.0zM2264.8 954.7l11.0 19.1h-22.0zM2272.4 933.1l11.0 19.1h-22.0zM2278.3 851.1l11.0 19.1h-22.0zM2286.4 758.6l11.0 19.1h-22.0zM2296.0 739.5l11.0 19.1h-22.0zM2303.0 725.5l11.0 19.1h-22.0zM2311.5 708.4l11.0 19.1h-22.0z" fill="#000"/>
<path d="M867.2 1190.3L869.0 1182.7M875.6 1153.5L878.1 1140.5M883.4 1111.0L886.5 1092.8M891.5 1063.2L895.7 1039.8M900.4 1010.1L904.2 982.1M908.4 952.3L912.5 922.0M916.7 892.2L920.7 863.5M925.0 833.8L928.9 806.2M933.7 776.6L937.5 754.3M942.9 724.8L945.8 709.0M951.9 679.7L953.6 672.6" stroke="#101080" stroke-width="1.8" fill="none"/>
<path d="M328.6 1445.8h18.0v18.0h-18.0zM337.1 1446.4h18.0v18.0h-18.0zM345.6 1446.4h18.0v18.0h-18.0zM354.1 1446.2h18.0v18.0h-18.0zM362.6 1445.8h18.0v18.0h-18.0zM371.1 1445.3h18.0v18.0h-18.0zM379.6 1444.7h18.0v18.0h-18.0zM388.1 1444.0h18.0v18.0h-18.0zM396.6 1443.3h18.0v18.0h-18.0zM405.1 1442.6h18.0v18.0h-18.0zM413.6 1441.9h18.0v18.0h-18.0zM422.1 1441.2h18.0v18.0h-18.0zM430.6 1440.4h18.0v18.0h-18.0zM439.1 1439.6h18.0v18.0h-18.0zM447.6 1438.6h18.0v18.0h-18.0zM456.1 1437.7h18.0v18.0h-18.0zM464.6 1436.7h18.0v18.0h-18.0zM473.1 1435.7h18.0v18.0h-18.0zM481.6 1434.6h18.0v18.0h-18.0zM490.1 1433.6h18.0v18.0h-18.0zM498.6 1432.5h18.0v18.0h-18.0zM507.1 1431.4h18.0v18.0h-18.0zM515.6 1430.4h18.0v18.0h-18.0zM524.1 1429.2h18.0v18.0h-18.0zM532.6 1428.1h18.0v18.0h-18.0zM541.1 1426.9h18.0v18.0h-18.0zM549.6 1425.7h18.0v18.0h-18.0zM558.1 1424.5h18.0v18.0h-18.0zM566.6 1423.3h18.0v18.0h-18.0zM575.1 1422.0h18.0v18.0h-18.0zM583.6 1420.7h18.0v18.0h-18.0zM592.1 1419.3h18.0v18.0h-18.0zM600.6 1417.9h18.0v18.0h-18.0zM609.1 1416.4h18.0v18.0h-18.0zM617.6 1414.7h18.0v18.0h-18.0zM626.1 1413.0h18.0v18.0h-18.0zM634.6 1411.3h18.0v18.0h-18.0zM643.1 1409.7h18.0v18.0h-18.0zM651.6 1407.7h18.0v18.0h-18.0zM660.1 1405.5h18.0v18.0h-18.0zM668.6 1403.1h18.0v18.0h-18.0zM677.1 1400.5h18.0v18.0h-18.0zM685.6 1398.0h18.0v18.0h-18.0zM694.1 1395.4h18.0v18.0h-18.0zM702.6 1392.7h18.0v18.0h-18.0zM711.1 1389.8h18.0v18.0h-18.0zM719.6 1386.5h18.0v18.0h-18.0zM728.1 1382.7h18.0v18.0h-18.0zM736.6 1378.7h18.0v18.0h-18.0zM745.1 1374.5h18.0v18.0h-18.0zM753.6 1369.9h18.0v18.0h-18.0zM762.1 1364.6h18.0v18.0h-18.0zM770.6 1358.4h18.0v18.0h-18.0zM779.1 1351.3h18.0v18.0h-18.0zM787.6 1342.8h18.0v18.0h-18.0zM796.1 1334.2h18.0v18.0h-18.0zM804.6 1322.1h18.0v18.0h-18.0zM813.1 1309.5h18.0v18.0h-18.0zM821.6 1291.7h18.0v18.0h-18.0zM829.7 1272.9h18.0v18.0h-18.0zM837.7 1251.4h18.0v18.0h-18.0zM847.3 1226.3h18.0v18.0h-18.0zM854.5 1195.8h18.0v18.0h-18.0zM863.7 1159.2h18.0v18.0h-18.0zM872.0 1116.8h18.0v18.0h-18.0zM879.9 1069.0h18.0v18.0h-18.0zM889.3 1016.0h18.0v18.0h-18.0zM897.3 958.2h18.0v18.0h-18.0zM905.6 898.1h18.0v18.0h-18.0zM913.8 839.6h18.0v18.0h-18.0zM922.1 782.4h18.0v18.0h-18.0zM931.1 730.5h18.0v18.0h-18.0zM939.6 685.3h18.0v18.0h-18.0zM947.9 649.0h18.0v18.0h-18.0zM956.2 621.2h18.0v18.0h-18.0zM964.6 605.6h18.0v18.0h-18.0zM974.1 596.8h18.0v18.0h-18.0zM983.6 600.2h18.0v18.0h-18.0zM991.7 613.1h18.0v18.0h-18.0zM999.2 632.7h18.0v18.0h-18.0zM1008.2 657.3h18.0v18.0h-18.0zM1016.5 684.4h18.0v18.0h-18.0zM1024.6 714.2h18.0v18.0h-18.0zM1033.7 744.4h18.0v18.0h-18.0zM1041.8 773.0h18.0v18.0h-18.0zM1050.9 797.4h18.0v18.0h-18.0zM1059.9 821.8h18.0v18.0h-18.0zM1068.9 841.7h18.0v18.0h-18.0zM1078.0 859.8h18.0v18.0h-18.0zM1087.0 877.9h18.0v18.0h-18.0zM1095.5 891.6h18.0v18.0h-18.0zM1104.0 903.8h18.0v18.0h-18.0zM1112.5 915.8h18.0v18.0h-18.0zM1121.0 928.5h18.0v18.0h-18.0zM1129.5 941.5h18.0v18.0h-18.0zM1138.0 954.3h18.0v18.0h-18.0zM1146.5 966.7h18.0v18.0h-18.0zM1155.0 978.2h18.0v18.0h-18.0zM1163.5 988.6h18.0v18.0h-18.0zM1172.0 997.6h18.0v18.0h-18.0zM1180.5 1005.7h18.0v18.0h-18.0zM1189.0 1013.7h18.0v18.0h-18.0zM1197.5 1021.9h18.0v18.0h-18.0zM1206.0 1030.1h18.0v18.0h-18.0zM1214.5 1038.3h18.0v18.0h-18.0zM1223.0 1046.4h18.0v18.0h-18.0zM1231.5 1054.2h18.0v18.0h-18.0zM1240.0 1061.9h18.0v18.0h-18.0zM1248.5 1069.5h18.0v18.0h-18.0zM1257.0 1076.9h18.0v18.0h-18.0zM1265.5 1084.2h18.0v18.0h-18.0zM1274.0 1091.2h18.0v18.0h-18.0zM1282.5 1097.8h18.0v18.0h-18.0zM1291.0 1104.2h18.0v18.0h-18.0zM1299.5 1110.3h18.0v18.0h-18.0zM1308.0 1116.3h18.0v18.0h-18.0zM1316.5 1122.0h18.0v18.0h-18.0zM1325.0 1127.6h18.0v18.0h-18.0zM1333.5 1133.1h18.0v18.0h-18.0zM1342.0 1138.7h18.0v18.0h-18.0zM1350.5 1144.1h18.0v18.0h-18.0zM1359.0 1149.2h18.0v18.0h-18.0zM1367.5 1153.7h18.0v18.0h-18.0zM1376.0 1157.5h18.0v18.0h-18.0zM1384.5 1161.0h18.0v18.0h-18.0zM1393.0 1164.3h18.0v18.0h-18.0zM1401.5 1167.2h18.0v18.0h-18.0zM1410.0 1169.7h18.0v18.0h-18.0zM1418.5 1172.0h18.0v18.0h-18.0zM1427.0 1174.2h18.0v18.0h-18.0zM1435.5 1175.9h18.0v18.0h-18.0zM1444.0 1176.0h18.0v18.0h-18.0zM1452.5 1175.2h18.0v18.0h-18.0zM1461.0 1174.0h18.0v18.0h-18.0zM1469.5 1172.1h18.0v18.0h-18.0zM1478.0 1169.5h18.0v18.0h-18.0zM1486.5 1168.1h18.0v18.0h-18.0zM1495.0 1167.4h18.0v18.0h-18.0zM1503.5 1167.0h18.0v18.0h-18.0zM1512.0 1167.3h18.0v18.0h-18.0zM1520.5 1169.0h18.0v18.0h-18.0zM1529.0 1171.3h18.0v18.0h-18.0zM1537.5 1174.0h18.0v18.0h-18.0zM1546.0 1177.5h18.0v18.0h-18.0zM1554.5 1181.5h18.0v18.0h-18.0zM1563.0 1186.5h18.0v18.0h-18.0zM1571.5 1191.9h18.0v18.0h-18.0zM1580.0 1196.9h18.0v18.0h-18.0zM1588.5 1201.5h18.0v18.0h-18.0zM1597.0 1206.1h18.0v18.0h-18.0zM1605.5 1210.8h18.0v18.0h-18.0zM1614.0 1215.5h18.0v18.0h-18.0zM1622.5 1220.0h18.0v18.0h-18.0zM1631.0 1224.3h18.0v18.0h-18.0zM1639.5 1228.5h18.0v18.0h-18.0zM1648.0 1233.0h18.0v18.0h-18.0zM1656.5 1237.1h18.0v18.0h-18.0zM1665.0 1238.9h18.0v18.0h-18.0zM1673.5 1238.3h18.0v18.0h-18.0zM1682.0 1236.1h18.0v18.0h-18.0zM1690.5 1234.0h18.0v18.0h-18.0zM1699.0 1232.1h18.0v18.0h-18.0zM1707.5 1229.9h18.0v18.0h-18.0zM1716.0 1227.2h18.0v18.0h-18.0zM1724.5 1224.1h18.0v18.0h-18.0zM1733.0 1221.0h18.0v18.0h-18.0zM1741.5 1218.0h18.0v18.0h-18.0zM1750.0 1214.9h18.0v18.0h-18.0zM1758.5 1212.0h18.0v18.0h-18.0zM1767.0 1208.7h18.0v18.0h-18.0zM1775.5 1206.9h18.0v18.0h-18.0zM1784.0 1207.5h18.0v18.0h-18.0zM1792.5 1209.1h18.0v18.0h-18.0zM1801.0 1210.6h18.0v18.0h-18.0zM1809.5 1212.2h18.0v18.0h-18.0zM1818.0 1213.4h18.0v18.0h-18.0zM1826.5 1213.6h18.0v18.0h-18.0zM1835.0 1213.6h18.0v18.0h-18.0zM1843.5 1213.6h18.0v18.0h-18.0zM1852.0 1212.9h18.0v18.0h-18.0zM1860.5 1211.4h18.0v18.0h-18.0zM1869.0 1210.1h18.0v18.0h-18.0zM1877.5 1209.1h18.0v18.0h-18.0zM1886.0 1208.2h18.0v18.0h-18.0zM1894.5 1207.4h18.0v18.0h-18.0zM1903.0 1206.6h18.0v18.0h-18.0zM1911.5 1205.8h18.0v18.0h-18.0zM1920.0 1204.9h18.0v18.0h-18.0zM1928.5 1204.0h18.0v18.0h-18.0zM1937.0 1203.0h18.0v18.0h-18.0zM1945.5 1202.2h18.0v18.0h-18.0zM1954.0 1201.4h18.0v18.0h-18.0zM1962.5 1200.9h18.0v18.0h-18.0zM1971.0 1200.5h18.0v18.0h-18.0zM1979.5 1200.1h18.0v18.0h-18.0zM1988.0 1199.7h18.0v18.0h-18.0zM1996.5 1199.1h18.0v18.0h-18.0zM2005.0 1198.5h18.0v18.0h-18.0zM2013.5 1197.9h18.0v18.0h-18.0zM2022.0 1197.1h18.0v18.0h-18.0zM2030.5 1196.3h18.0v18.0h-18.0zM2039.0 1195.3h18.0v18.0h-18.0zM2047.5 1194.2h18.0v18.0h-18.0zM2056.0 1193.0h18.0v18.0h-18.0zM2064.5 1191.7h18.0v18.0h-18.0zM2073.0 1190.1h18.0v18.0h-18.0zM2081.5 1188.3h18.0v18.0h-18.0zM2090.0 1186.2h18.0v18.0h-18.0zM2098.5 1184.1h18.0v18.0h-18.0zM2107.0 1182.0h18.0v18.0h-18.0zM2115.5 1179.7h18.0v18.0h-18.0zM2124.0 1177.3h18.0v18.0h-18.0zM2132.5 1174.8h18.0v18.0h-18.0zM2141.0 1172.2h18.0v18.0h-18.0zM2149.5 1169.2h18.0v18.0h-18.0zM2158.0 1165.2h18.0v18.0h-18.0zM2166.5 1160.7h18.0v18.0h-18.0zM2175.0 1156.1h18.0v18.0h-18.0zM2183.5 1151.3h18.0v18.0h-18.0zM2192.0 1146.5h18.0v18.0h-18.0zM2200.5 1141.4h18.0v18.0h-18.0zM2209.0 1135.8h18.0v18.0h-18.0zM2217.5 1129.6h18.0v18.0h-18.0zM2226.0 1123.2h18.0v18.0h-18.0zM2234.5 1117.4h18.0v18.0h-18.0zM2243.0 1111.6h18.0v18.0h-18.0zM2251.5 1103.8h18.0v18.0h-18.0zM2260.0 1093.2h18.0v18.0h-18.0zM2268.5 1083.0h18.0v18.0h-18.0zM2277.0 1072.6h18.0v18.0h-18.0zM2285.5 1063.9h18.0v18.0h-18.0zM2294.0 1056.3h18.0v18.0h-18.0zM2302.5 1047.5h18.0v18.0h-18.0z" fill="#0000ff"/>
</g>
<rect x="1683.6" y="26.3" width="559" height="354.1" fill="#fff" stroke="#000" stroke-width="2.8"/>
<path d="M1764.3 107.7H1856.5M1879 107.7H1968.7" stroke="#15159a" stroke-width="2.6"/>
<rect x="1856.9" y="98.3" width="19" height="19" fill="#0000ff"/>
<ellipse cx="1866.3" cy="218.7" rx="9.7" ry="10.6" fill="#ff0000"/>
<path d="M1764.3 329H1856M1879.5 329H1968.7" stroke="#000" stroke-width="2.6"/>
<path d="M1867.6 316.6L1879 335.8H1856.6z" fill="#000"/>
<text transform="translate(1994 139.2) scale(1 1.04)" font-size="91px" text-anchor="start">FR-A</text>
<text transform="translate(1994 248) scale(1 1.04)" font-size="91px" text-anchor="start">FR-B</text>
<text transform="translate(1994 360.3) scale(1 1.04)" font-size="91px" text-anchor="start">FR-C</text>
</svg></body></html>
